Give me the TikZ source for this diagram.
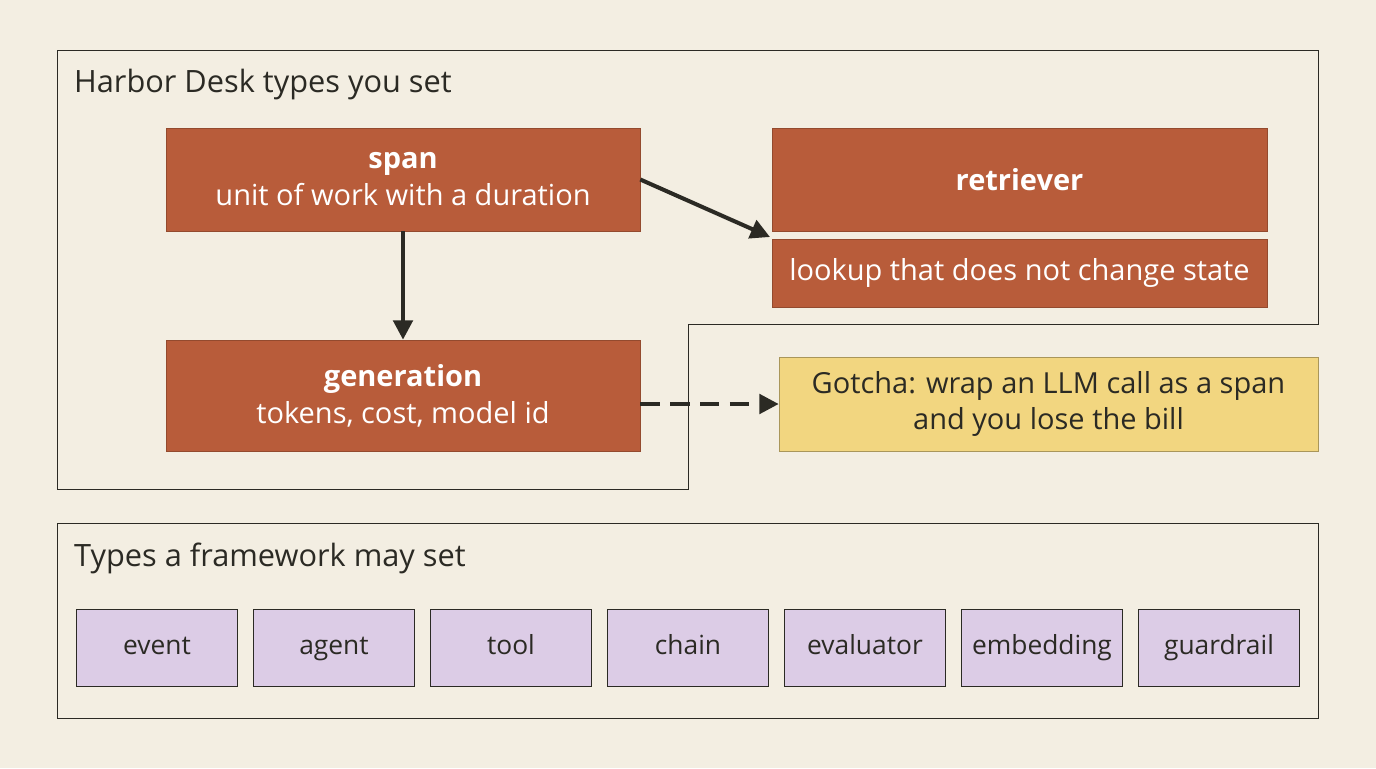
\documentclass[tikz,border=0pt]{standalone}
\usepackage{fontspec}
\setmainfont{Open Sans}
\usetikzlibrary{positioning,arrows.meta,calc}
\definecolor{cream}{HTML}{F3EEE2}
\definecolor{rust}{HTML}{B85C3A}
\definecolor{sand}{HTML}{F2D680}
\definecolor{lilac}{HTML}{DCCCE6}
\definecolor{ink}{HTML}{2B2A24}
\tikzset{
  kind/.style={draw=rust!80!black, fill=rust, text=white, align=center, inner sep=0pt, font=\fontsize{16.5}{21}\selectfont},
  note/.style={draw=sand!70!black, fill=sand, text=ink, align=center, inner sep=0pt, font=\fontsize{16.5}{21}\selectfont},
  tag/.style={draw=ink, fill=lilac, text=ink, minimum width=3.22cm, minimum height=1.54cm, inner sep=0pt, text height=11pt, text depth=3pt, font=\fontsize{15}{18}\selectfont},
  frame/.style={draw=ink, thin},
  link/.style={-{Triangle[length=11pt,width=11pt]}, line width=2.3pt, draw=ink},
}
\begin{document}
\begin{tikzpicture}[x=0.02cm,y=-0.02cm]
    % Background
    \fill[cream] (0,0) rectangle (1376,768);
    \useasboundingbox (0,0) rectangle (1376,768);

    % Containers
    \draw[frame] (57,50) -- (1318,50) -- (1318,324) -- (688,324) -- (688,489) -- (57,489) -- cycle;
    \draw[frame] (57,523) rectangle (1318,718);
    \node[anchor=west, text=ink, font=\fontsize{17.5}{20}\selectfont] (top) at (68,85) {Harbor Desk types you set};
    \node[anchor=west, text=ink, font=\fontsize{17.5}{20}\selectfont] (bottom) at (68,558) {Types a framework may set};

    % Types you set
    \node[kind, minimum width=9.48cm, minimum height=2.06cm] (span) at (403,179.5) {\textbf{span}\\unit of work with a duration};
    \node[kind, minimum width=9.48cm, minimum height=2.22cm] (gen) at (403,395.5) {\textbf{generation}\\tokens, cost, model id};
    \node[kind, minimum width=9.9cm, minimum height=2.06cm] (retr) at (1019.5,179.5) {\textbf{retriever}};
    \node[kind, minimum width=9.9cm, minimum height=1.36cm] (look) at (1019.5,273) {lookup that does not change state};
    \node[note, minimum width=10.78cm, minimum height=1.88cm] (gotcha) at (1048.5,404) {Gotcha: wrap an LLM call as a span\\and you lose the bill};
    \coordinate (hit) at (770,237);
    \coordinate (genout) at (gen.east |- gotcha.west);

    % Connectors
    \draw[link] (span.south) -- (gen.north);
    \draw[link] (span.east) -- (hit);
    \draw[link, dash pattern=on 11pt off 6pt] (genout) -- (gotcha.west);

    % Types a framework may set
    \foreach \name [count=\i from 0] in {event,agent,tool,chain,evaluator,embedding,guardrail} {
        \node[tag] (t\i) at (157+177*\i,647.5) {\name};
    }
\end{tikzpicture}
\end{document}
